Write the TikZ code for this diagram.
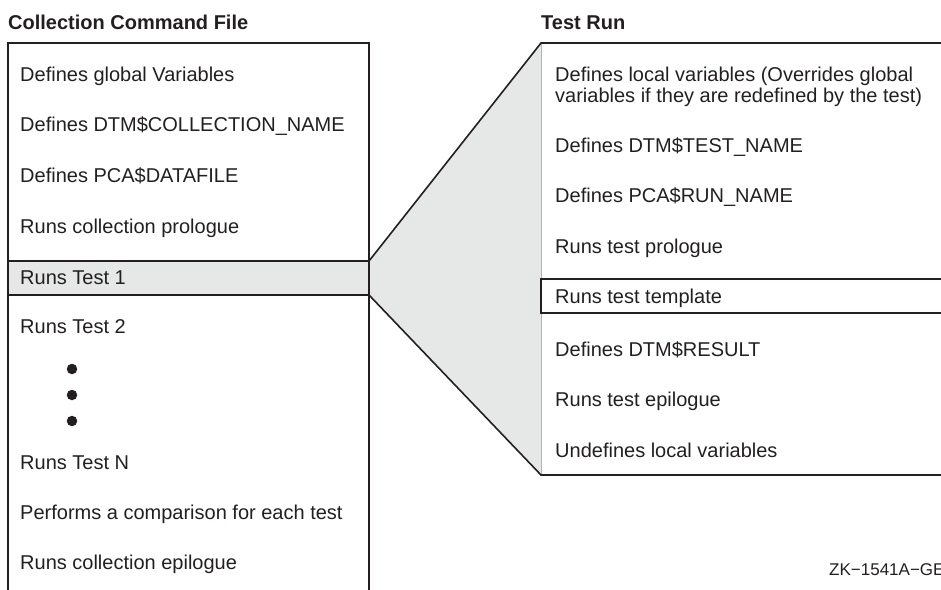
\documentclass[tikz,border=0pt]{standalone}
\usepackage{fontspec}
\setmainfont{Liberation Sans}
\definecolor{ink}{HTML}{231F20}
\definecolor{grayfill}{HTML}{E6E7E7}
\definecolor{edgegray}{HTML}{B4B4B4}
\begin{document}
\begin{tikzpicture}[x=1pt,y=-1pt,
  txt/.style={anchor=base west, inner sep=0pt, text=ink, font=\fontsize{20}{21}\selectfont},
  ttl/.style={anchor=base west, inner sep=0pt, text=ink, font=\fontsize{20}{24}\selectfont\bfseries},
  frame/.style={draw=ink, line width=1.6pt},
  thinframe/.style={draw=ink, line width=1.2pt},
  dotmark/.style={circle, fill=ink, inner sep=0pt, minimum size=10.5pt}]
\useasboundingbox (0,0) rectangle (941,589);
\clip (0,0) rectangle (941,589);
% key points
\coordinate (LT) at (8,43);
\coordinate (RT) at (369,43);
\coordinate (LB) at (8,592);
\coordinate (RB) at (369,592);
\coordinate (S1) at (369,261);
\coordinate (S2) at (369,295);
\coordinate (S1l) at (8,261);
\coordinate (S2l) at (8,295);
\coordinate (P1) at (541,43);
\coordinate (P2) at (541,475);
\coordinate (E1) at (945,43);
\coordinate (E2) at (945,475);
\coordinate (T1) at (541,279);
\coordinate (T2) at (541,313);
\coordinate (T1r) at (945,279);
\coordinate (T2r) at (945,313);
% shading
\fill[grayfill] (S1) -- (P1) -- (P2) -- (S2) -- cycle;
\fill[grayfill] (S1l) rectangle (S2);
% left frame
\draw[frame] (LB) -- (LT) -- (RT) -- (RB);
\draw[frame] (S1l) -- (S1);
\draw[frame] (S2l) -- (S2);
% right frame
\draw[edgegray, line width=0.8pt] (P1) -- (P2);
\draw[frame] (S1) -- (P1) -- (E1);
\draw[frame] (S2) -- (P2) -- (E2);
\draw[thinframe] (T1r) -- (T1) -- (T2) -- (T2r);
% titles
\node[ttl] (t1) at (8,29) {Collection Command File};
\node[ttl] (t2) at (541,29) {Test Run};
% left texts
\node[txt] (l1) at (20,81) {Defines global Variables};
\node[txt] (l2) at (20,131) {Defines DTM\$COLLECTION\_NAME};
\node[txt] (l3) at (20,182) {Defines PCA\$DATAFILE};
\node[txt] (l4) at (20,233) {Runs collection prologue};
\node[txt] (l5) at (20,284) {Runs Test 1};
\node[txt] (l6) at (20,333) {Runs Test 2};
\node[dotmark] (d1) at (72,369) {};
\node[dotmark] (d2) at (72,395) {};
\node[dotmark] (d3) at (72,421) {};
\node[txt] (l7) at (20,469) {Runs Test N};
\node[txt] (l8) at (20,519) {Performs a comparison for each test};
\node[txt] (l9) at (20,569) {Runs collection epilogue};
% right texts
\node[txt, align=left, anchor=north west] (r1) at (555,67) {Defines local variables (Overrides global\\variables if they are redefined by the test)};
\node[txt] (r2) at (555,152) {Defines DTM\$TEST\_NAME};
\node[txt] (r3) at (555,202) {Defines PCA\$RUN\_NAME};
\node[txt] (r4) at (555,253) {Runs test prologue};
\node[txt] (r5) at (555,303) {Runs test template};
\node[txt] (r6) at (555,356) {Defines DTM\$RESULT};
\node[txt] (r7) at (555,406) {Runs test epilogue};
\node[txt] (r8) at (555,457) {Undefines local variables};
\node[anchor=base west, inner sep=0pt, text=ink, font=\fontsize{17}{18}\selectfont] (zk) at (829,575) {ZK−1541A−GE};
\end{tikzpicture}
\end{document}
